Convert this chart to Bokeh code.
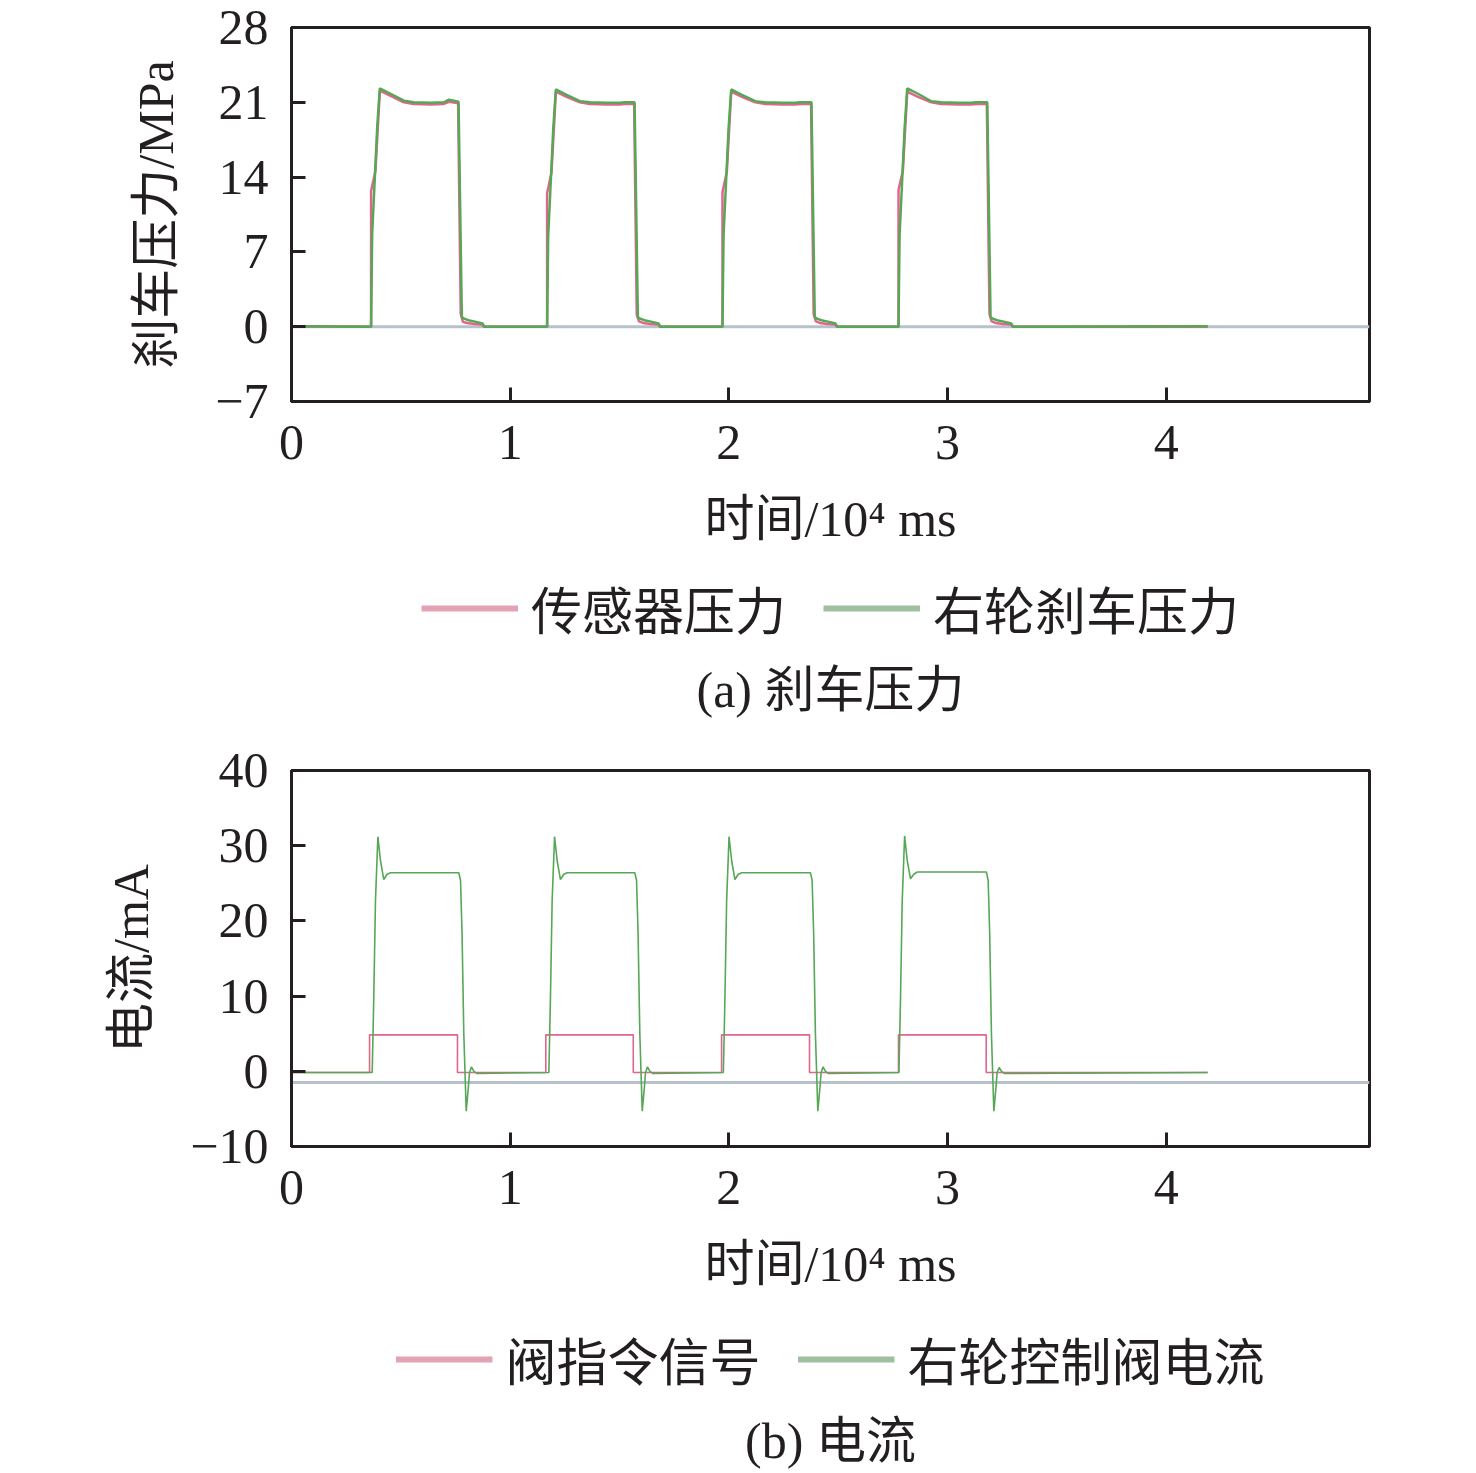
from bokeh.plotting import figure
from bokeh.models import Range1d, FixedTicker, Span, Legend, LegendItem, Label
from bokeh.layouts import column
from bokeh.embed import file_html
from bokeh.resources import INLINE

# ---------------- data (time in 10^4 ms) ----------------
x_ticks = [0, 1, 2, 3, 4]
x_tick_labels = ["0", "1", "2", "3", "4"]
y1_ticks = [-7, 0, 7, 14, 21, 28]
y1_tick_labels = ["\u22127", "0", "7", "14", "21", "28"]
y2_ticks = [-10, 0, 10, 20, 30, 40]
y2_tick_labels = ["\u221210", "0", "10", "20", "30", "40"]

# (a) sensor pressure, MPa
sensor_t = [0.0,
            0.364, 0.364, 0.384, 0.404, 0.453, 0.514, 0.559, 0.636, 0.697, 0.720, 0.762, 0.774, 0.784, 0.802, 0.837, 0.872, 0.880,
            1.169, 1.169, 1.189, 1.209, 1.258, 1.319, 1.364, 1.441, 1.502, 1.525, 1.567, 1.579, 1.589, 1.607, 1.642, 1.677, 1.685,
            1.971, 1.971, 1.991, 2.011, 2.060, 2.121, 2.166, 2.243, 2.304, 2.327, 2.376, 2.388, 2.398, 2.416, 2.451, 2.486, 2.494,
            2.776, 2.776, 2.796, 2.816, 2.865, 2.926, 2.971, 3.048, 3.109, 3.132, 3.180, 3.192, 3.202, 3.220, 3.255, 3.290, 3.298,
            4.19]
sensor_p = [0.05,
            0.0, 12.7, 14.6, 22.1, 21.6, 21.0, 20.85, 20.8, 20.85, 21.05, 20.9, 1.2, 0.45, 0.35, 0.25, 0.2, 0.0,
            0.0, 12.5, 14.4, 22.0, 21.5, 21.0, 20.85, 20.8, 20.8, 20.85, 20.85, 1.1, 0.5, 0.35, 0.25, 0.2, 0.0,
            0.0, 12.6, 14.5, 22.0, 21.5, 21.0, 20.85, 20.8, 20.8, 20.85, 20.85, 1.2, 0.5, 0.35, 0.25, 0.2, 0.0,
            0.0, 12.8, 14.6, 22.0, 21.5, 21.0, 20.85, 20.8, 20.8, 20.85, 20.85, 1.2, 0.5, 0.35, 0.25, 0.2, 0.0,
            0.0]

# (a) right wheel brake pressure, MPa
wheel_t = [0.0,
           0.364, 0.369, 0.392, 0.404, 0.453, 0.514, 0.559, 0.636, 0.697, 0.720, 0.764, 0.779, 0.789, 0.809, 0.844, 0.874, 0.882,
           1.169, 1.174, 1.197, 1.209, 1.258, 1.319, 1.364, 1.441, 1.502, 1.525, 1.569, 1.584, 1.594, 1.614, 1.649, 1.679, 1.687,
           1.971, 1.976, 1.999, 2.011, 2.060, 2.121, 2.166, 2.243, 2.304, 2.327, 2.378, 2.393, 2.403, 2.423, 2.458, 2.488, 2.496,
           2.776, 2.781, 2.804, 2.816, 2.865, 2.926, 2.971, 3.048, 3.109, 3.132, 3.182, 3.197, 3.207, 3.227, 3.262, 3.292, 3.300,
           4.19]
wheel_p = [0.05,
           0.0, 8.7, 18.7, 22.3, 21.8, 21.15, 21.0, 20.95, 21.0, 21.25, 21.05, 0.9, 0.75, 0.6, 0.45, 0.3, 0.0,
           0.0, 8.5, 18.5, 22.2, 21.7, 21.1, 21.0, 20.95, 20.95, 21.0, 21.0, 0.9, 0.75, 0.6, 0.45, 0.3, 0.0,
           0.0, 8.6, 18.6, 22.2, 21.7, 21.1, 21.0, 20.95, 20.95, 21.0, 21.0, 0.9, 0.75, 0.6, 0.45, 0.3, 0.0,
           0.0, 8.6, 18.6, 22.3, 21.8, 21.1, 21.0, 20.95, 20.95, 21.0, 21.0, 0.9, 0.75, 0.6, 0.45, 0.3, 0.0,
           0.05]

# (b) valve command signal, mA
cmd_t = [0.0, 0.357, 0.357, 0.759, 0.759, 1.163, 1.163, 1.563, 1.563,
         1.967, 1.967, 2.369, 2.369, 2.776, 2.776, 3.177, 3.177, 4.19]
cmd_i = [-0.15, -0.15, 4.85, 4.85, -0.15, -0.15, 4.85, 4.85, -0.15,
         -0.15, 4.85, 4.85, -0.15, -0.15, 4.85, 4.85, -0.15, -0.15]

# (b) right wheel control valve current, mA
valve_t = [0.0,
           0.369, 0.376, 0.384, 0.395, 0.407, 0.422, 0.437, 0.453, 0.765, 0.773, 0.780, 0.788, 0.799, 0.808, 0.814, 0.823, 0.834, 0.849,
           1.177, 1.184, 1.192, 1.203, 1.215, 1.230, 1.245, 1.261, 1.570, 1.578, 1.585, 1.593, 1.604, 1.613, 1.619, 1.628, 1.639, 1.654,
           1.975, 1.982, 1.990, 2.001, 2.013, 2.028, 2.043, 2.059, 2.373, 2.381, 2.388, 2.396, 2.407, 2.416, 2.422, 2.431, 2.442, 2.457,
           2.778, 2.785, 2.793, 2.804, 2.816, 2.831, 2.846, 2.862, 3.178, 3.186, 3.193, 3.201, 3.212, 3.221, 3.227, 3.236, 3.247, 3.262,
           4.19]
valve_i = [-0.15,
           -0.15, 9.4, 22.7, 31.2, 28.0, 25.5, 26.2, 26.4, 26.4, 25.4, 18.3, 5.0, -5.3, -2.4, -0.2, 0.6, 0.0, -0.3,
           -0.15, 9.4, 22.7, 31.2, 28.0, 25.5, 26.2, 26.4, 26.4, 25.4, 18.3, 5.0, -5.3, -2.4, -0.2, 0.6, 0.0, -0.3,
           -0.15, 9.4, 22.7, 31.2, 28.0, 25.5, 26.2, 26.4, 26.4, 25.4, 18.3, 5.0, -5.3, -2.4, -0.2, 0.6, 0.0, -0.3,
           -0.15, 9.4, 22.7, 31.3, 28.0, 25.6, 26.2, 26.5, 26.5, 25.4, 18.3, 5.0, -5.3, -2.4, -0.2, 0.5, 0.0, -0.3,
           -0.15]

ref_level_a = 0.0
ref_level_b = -1.5

# ---------------- styling ----------------
FONT = "'Liberation Serif', 'Noto Sans CJK SC', serif"
INK = "#231f20"
RED = "#e0668a"
GREEN = "#56a756"
RED_LEG = "#e3a3b3"
GREEN_LEG = "#9fbf9f"
GREY = "#b8c1cb"
FS = "50px"
LFS = "51px"
W = 1460
BL, BR = 291, 91


def make_fig(height, border_top, border_bottom, yrange, yticks, ylabels, ytitle):
    p = figure(width=W, height=height, output_backend="svg", toolbar_location=None,
               x_range=Range1d(0, 4.93), y_range=Range1d(*yrange),
               min_border_left=BL, min_border_right=BR,
               min_border_top=border_top, min_border_bottom=border_bottom)
    p.background_fill_color = "white"
    p.border_fill_color = "white"
    p.outline_line_color = INK
    p.outline_line_width = 3
    p.xgrid.visible = False
    p.ygrid.visible = False
    for ax, ticks, labels in ((p.xaxis[0], x_ticks, x_tick_labels), (p.yaxis[0], yticks, ylabels)):
        ax.ticker = FixedTicker(ticks=ticks)
        ax.major_label_overrides = {t: l for t, l in zip(ticks, labels)}
        ax.axis_line_color = INK
        ax.axis_line_width = 3
        ax.major_tick_line_color = INK
        ax.major_tick_line_width = 3
        ax.major_tick_in = 14
        ax.major_tick_out = 0
        ax.minor_tick_line_color = None
        ax.major_label_text_font = FONT
        ax.major_label_text_font_size = FS
        ax.major_label_text_color = INK
        ax.axis_label_text_font = FONT
        ax.axis_label_text_font_size = FS
        ax.axis_label_text_font_style = "normal"
        ax.axis_label_text_color = INK
    p.xaxis[0].axis_label = "时间/10\u2074 ms"
    p.xaxis[0].major_label_standoff = 24
    p.xaxis[0].axis_label_standoff = 29
    p.yaxis[0].axis_label = ytitle
    p.yaxis[0].major_label_standoff = 23
    p.yaxis[0].axis_label_standoff = 28
    return p


def legend_fig(height, names, caption, legend_margin, caption_y):
    f = figure(width=W, height=height, output_backend="svg", toolbar_location=None,
               x_range=Range1d(0, 1), y_range=Range1d(0, 1),
               x_axis_location=None, y_axis_location=None,
               min_border_left=BL, min_border_right=BR, min_border_top=0, min_border_bottom=0)
    f.outline_line_color = None
    f.xgrid.visible = False
    f.ygrid.visible = False
    r1 = f.line(x=[5, 6], y=[5, 5], line_color=RED_LEG, line_width=6)
    r2 = f.line(x=[5, 6], y=[5, 5], line_color=GREEN_LEG, line_width=6)
    leg = Legend(items=[LegendItem(label=names[0], renderers=[r1]),
                        LegendItem(label=names[1], renderers=[r2])],
                 orientation="horizontal", location="top_center",
                 glyph_width=97, glyph_height=56, label_height=56,
                 label_standoff=13, spacing=37, padding=0, margin=legend_margin,
                 label_text_font=FONT, label_text_font_size=LFS, label_text_color=INK,
                 border_line_color=None, background_fill_alpha=0)
    f.add_layout(leg)
    f.add_layout(Label(x=0.5, y=caption_y, text=caption, text_align="center",
                       text_baseline="middle", text_font=FONT, text_font_size=FS,
                       text_color=INK))
    return f


# (a)
p1 = make_fig(560, 27, 159, (-7, 28), y1_ticks, y1_tick_labels, "刹车压力/MPa")
p1.add_layout(Span(location=ref_level_a, dimension="width", line_color=GREY, line_width=3, level="underlay"))
p1.line(sensor_t, sensor_p, line_color=RED, line_width=2.5)
p1.line(wheel_t, wheel_p, line_color=GREEN, line_width=2.5)
l1 = legend_fig(180, ["传感器压力", "右轮刹车压力"], "(a) 刹车压力", 11, 0.283)

# (b)
p2 = make_fig(565, 30, 159, (-10, 40), y2_ticks, y2_tick_labels, "电流/mA")
p2.add_layout(Span(location=ref_level_b, dimension="width", line_color=GREY, line_width=3, level="underlay"))
p2.line(cmd_t, cmd_i, line_color=RED, line_width=1.6)
p2.line(valve_t, valve_i, line_color=GREEN, line_width=1.6)
l2 = legend_fig(168, ["阀指令信号", "右轮控制阀电流"], "(b) 电流", 17, 0.196)

layout = column(p1, l1, p2, l2, spacing=0)
open("out.html", "w").write(file_html(layout, INLINE))
